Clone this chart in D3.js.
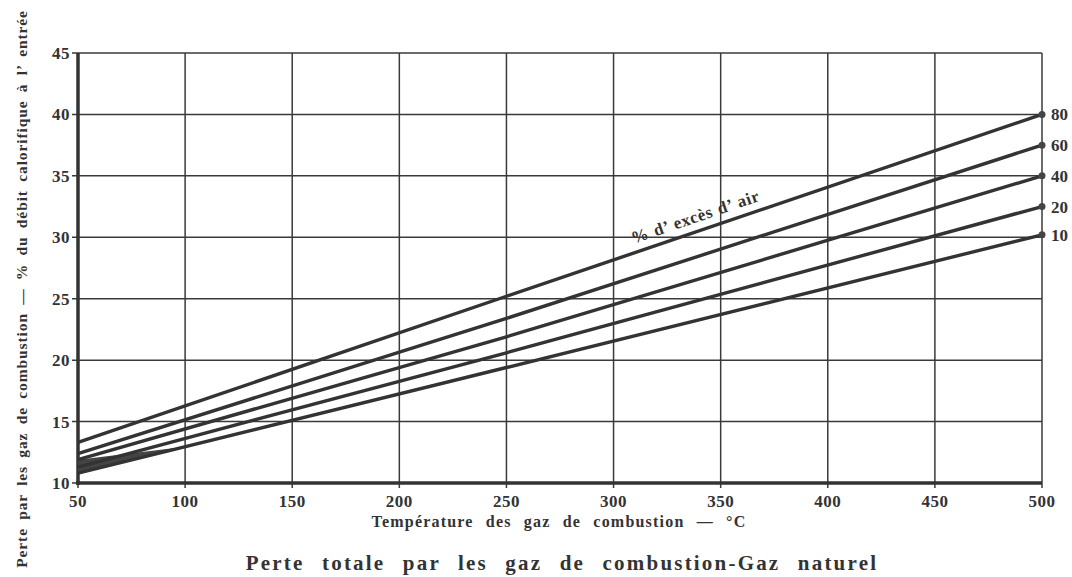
<!DOCTYPE html>
<html>
<head>
<meta charset="utf-8">
<script src="https://cdn.jsdelivr.net/npm/d3@7"></script>
<style>
  body { margin: 0; background: #fff; }
  svg text { font-family: "Liberation Serif", "DejaVu Serif", serif; font-weight: bold; fill: #333; }
</style>
</head>
<body>
<div id="chart"></div>
<script>
// data
const temps = [50, 250, 500];
const excessAir = ['80', '60', '40', '20', '10'];
const loss80 = [13.3, 25.2, 40.0];
const loss60 = [12.4, 23.4, 37.5];
const loss40 = [11.9, 21.9, 35.0];
const loss20 = [11.3, 20.6, 32.5];
const loss10 = [10.8, 19.4, 30.2];
const xTicks = [50, 100, 150, 200, 250, 300, 350, 400, 450, 500];
const yTicks = [10, 15, 20, 25, 30, 35, 40, 45];

const series = [loss80, loss60, loss40, loss20, loss10].map((vals, i) => ({
  name: excessAir[i],
  points: temps.map((t, j) => ({ t, v: vals[j] }))
}));

const width = 1072;
const height = 577;
const margin = { top: 53, right: 30, bottom: 94, left: 78 };

const svg = d3.select('#chart').append('svg')
  .attr('width', width)
  .attr('height', height);

const xScale = d3.scaleLinear().domain([50, 500]).range([margin.left, width - margin.right]);
const yScale = d3.scaleLinear().domain([10, 45]).range([height - margin.bottom, margin.top]);

// gridlines
const grid = svg.append('g').attr('stroke', '#3a3a3a').attr('stroke-width', 1.5);
grid.selectAll('.h').data(yTicks).join('line')
  .attr('x1', xScale(50) - 6).attr('x2', xScale(500))
  .attr('y1', d => yScale(d)).attr('y2', d => yScale(d));
grid.selectAll('.v').data(xTicks).join('line')
  .attr('x1', d => xScale(d)).attr('x2', d => xScale(d))
  .attr('y1', yScale(45)).attr('y2', yScale(10) + 5);

// thicker axis frame on left and bottom
svg.append('line')
  .attr('x1', xScale(50)).attr('x2', xScale(50))
  .attr('y1', yScale(45)).attr('y2', yScale(10) + 2)
  .attr('stroke', '#333').attr('stroke-width', 3.5);
svg.append('line')
  .attr('x1', xScale(50) - 2).attr('x2', xScale(500))
  .attr('y1', yScale(10)).attr('y2', yScale(10))
  .attr('stroke', '#333').attr('stroke-width', 3.5);

// tick labels
svg.append('g').selectAll('text').data(yTicks).join('text')
  .attr('x', xScale(50) - 8)
  .attr('y', d => yScale(d) + 6)
  .attr('text-anchor', 'end')
  .attr('font-size', 17)
  .attr('letter-spacing', 0.5)
  .text(d => d);

svg.append('g').selectAll('text').data(xTicks).join('text')
  .attr('x', d => xScale(d))
  .attr('y', yScale(10) + 24)
  .attr('text-anchor', 'middle')
  .attr('font-size', 17)
  .attr('letter-spacing', 0.5)
  .text(d => d);

// shaded wedge where the low lines merge near 50 °C
const lerp = (s, t) => {
  const p = s.points;
  return p[0].v + (p[1].v - p[0].v) * (t - p[0].t) / (p[1].t - p[0].t);
};
svg.append('path')
  .attr('d', d3.line()([
    [xScale(50), yScale(series[2].points[0].v)],
    [xScale(100), yScale(lerp(series[4], 100))],
    [xScale(50), yScale(series[4].points[0].v)]
  ]) + 'Z')
  .attr('fill', '#444');

// loss curves
const line = d3.line().x(d => xScale(d.t)).y(d => yScale(d.v));
svg.append('g').selectAll('path').data(series).join('path')
  .attr('d', d => line(d.points))
  .attr('fill', 'none')
  .attr('stroke', '#333')
  .attr('stroke-width', 3.4);

// end markers and labels at 500 °C
const last = d => d.points[d.points.length - 1];
svg.append('g').selectAll('circle').data(series).join('circle')
  .attr('cx', d => xScale(last(d).t))
  .attr('cy', d => yScale(last(d).v))
  .attr('r', 3.5)
  .attr('fill', '#444');
svg.append('g').selectAll('text').data(series).join('text')
  .attr('x', xScale(500) + 9)
  .attr('y', d => yScale(last(d).v) + 6)
  .attr('font-size', 17)
  .text(d => d.name);

// inline label along the 80 % line
const angle = Math.atan2(yScale(loss80[2]) - yScale(loss80[0]), xScale(500) - xScale(50)) * 180 / Math.PI;
svg.append('text')
  .attr('transform', `translate(${xScale(339)},${yScale(lerp(series[0], 339)) - 9}) rotate(${angle})`)
  .attr('text-anchor', 'middle')
  .attr('font-size', 17)
  .attr('letter-spacing', 0.6)
  .attr('word-spacing', 1)
  .text('% d\u2019 excès d\u2019 air');

// axis titles
svg.append('text')
  .attr('x', 559).attr('y', 527)
  .attr('text-anchor', 'middle')
  .attr('font-size', 16)
  .attr('letter-spacing', 1.2)
  .attr('word-spacing', 7)
  .text('Température des gaz de combustion — °C');

svg.append('text')
  .attr('transform', 'translate(27,289) rotate(-90)')
  .attr('text-anchor', 'middle')
  .attr('font-size', 15.5)
  .attr('letter-spacing', 0.9)
  .attr('word-spacing', 3.5)
  .text('Perte par les gaz de combustion — % du débit calorifique à l\u2019 entrée');

svg.append('text')
  .attr('x', 562).attr('y', 570)
  .attr('text-anchor', 'middle')
  .attr('font-size', 21)
  .attr('letter-spacing', 2.2)
  .attr('word-spacing', 10)
  .text('Perte totale par les gaz de combustion-Gaz naturel');
</script>
</body>
</html>
